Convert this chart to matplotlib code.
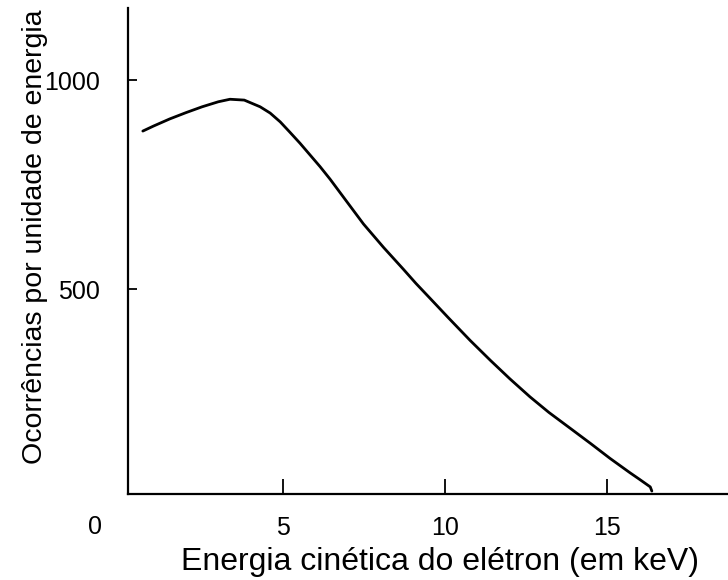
import matplotlib
matplotlib.use("Agg")
import matplotlib.pyplot as plt

plt.rcParams['font.family'] = ['Liberation Sans', 'DejaVu Sans']

# Data
energy_kev = [0.67, 1.0, 1.5, 2.0, 2.5, 3.0, 3.36, 3.8, 4.29, 4.6, 4.91, 5.2,
              5.52, 5.83, 6.14, 6.45, 6.95, 7.48, 8.1, 8.71, 9.1, 9.54, 10.1,
              10.77, 11.4, 12.0, 12.62, 13.2, 13.86, 14.5, 15.09, 15.7, 16.0,
              16.33, 16.38]
occurrences = [878, 890, 907, 922, 936, 948, 954, 952, 936, 921, 900, 876,
               849, 821, 793, 763, 711, 656, 600, 548, 514, 478, 432,
               378, 330, 286, 243, 206, 168, 131, 96, 62, 46,
               28, 18]
xticks = [5, 10, 15]
yticks = [500, 1000]
xlabel = "Energia cinética do elétron (em keV)"
ylabel = "Ocorrências por unidade de energia"
origin_label = "0"

W, H = 728, 580
fig = plt.figure(figsize=(W / 100, H / 100), dpi=100)
ax = fig.add_axes([127.6 / W, 1 - 494 / H, 1 - 127.6 / W, (494 - 8) / H])

ax.plot(energy_kev, occurrences, color='black', lw=2.0,
        solid_capstyle='round', solid_joinstyle='round')

ax.set_xlim(0.2, 18.73)
ax.set_ylim(11, 1172)

ax.set_xticks(xticks)
ax.set_yticks(yticks)
ax.tick_params(axis='x', direction='in', length=11, width=1.3, pad=16, labelsize=18)
ax.tick_params(axis='y', direction='in', length=6.5, width=1.3, pad=20, labelsize=18)

for s in ['top', 'right']:
    ax.spines[s].set_visible(False)
for s in ['left', 'bottom']:
    ax.spines[s].set_linewidth(1.6)

ax.set_xlabel(xlabel, fontsize=23)
ax.set_ylabel(ylabel, fontsize=20.5)
ax.xaxis.label.set_va('center')
ax.yaxis.label.set_va('center')
ax.xaxis.set_label_coords((440 - 127.6) / (W - 127.6), -(562 - 494) / 486)
ax.yaxis.set_label_coords(-(127.6 - 35) / (W - 127.6), (494 - 237) / 486)

fig.text(95 / W, 1 - 527 / H, origin_label, fontsize=18, ha='center', va='center')

fig.savefig("out.png", dpi=100)
